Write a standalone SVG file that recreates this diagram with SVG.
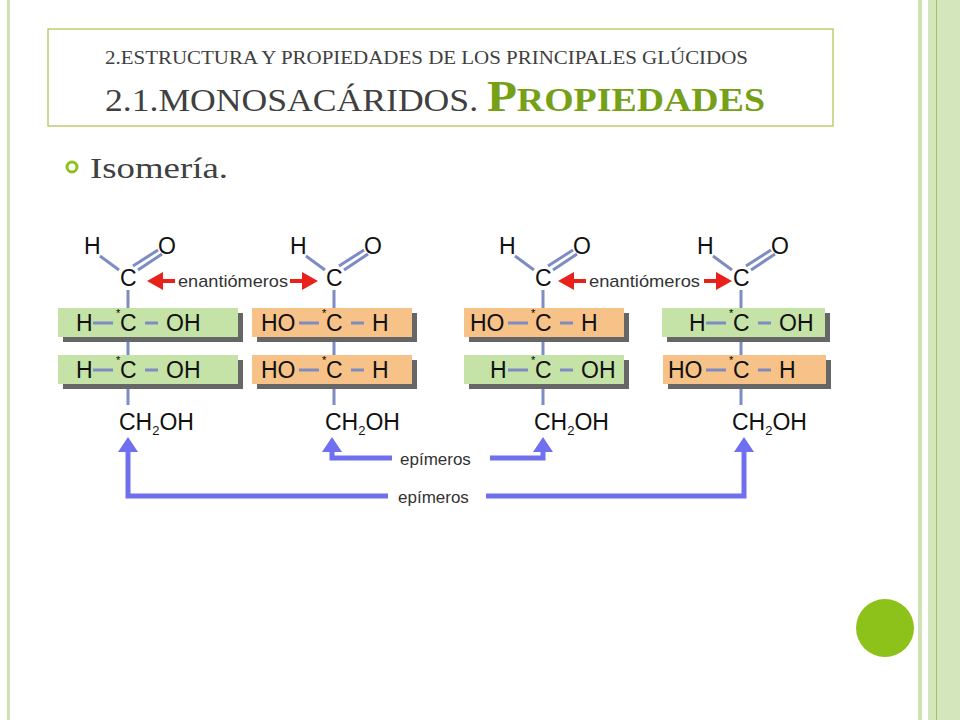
<svg xmlns="http://www.w3.org/2000/svg" width="960" height="720" viewBox="0 0 960 720">
<defs>
<style>
.s{font-family:"Liberation Serif",serif;fill:#404040}
.m{font-family:"Liberation Sans",Arial,sans-serif;font-size:23px;fill:#111}
.l{font-family:"Liberation Sans",Arial,sans-serif;font-size:17px;fill:#333}
.b{stroke:#7e8cc4;stroke-width:3;fill:none}
.g{fill:#c5e3a6}.o{fill:#f7c287}.sh{fill:#666}
.bl{stroke:#6f6ff0;stroke-width:5;fill:none}
.rd{stroke:#e8211b;stroke-width:4}
</style>
</defs>
<rect width="960" height="720" fill="#fff"/>
<rect x="7" y="0" width="3" height="720" fill="#cfe2b4"/>
<rect x="918" y="0" width="4" height="720" fill="#cfe2b4"/>
<rect x="928" y="0" width="32" height="720" fill="#d4e6bb"/>
<rect x="936" y="0" width="1" height="720" fill="#9cc460"/>
<circle cx="885" cy="628" r="29" fill="#8cc21a"/>
<g id="header">
<rect x="48" y="29" width="785" height="97" fill="#fff" stroke="#a9c24f" stroke-width="1.2"/>
<text class="s" x="105" y="64" font-size="18" textLength="643" lengthAdjust="spacingAndGlyphs">2.ESTRUCTURA Y PROPIEDADES DE LOS PRINCIPALES GLÚCIDOS</text>
<text class="s" x="105" y="111" font-size="32" textLength="660" lengthAdjust="spacingAndGlyphs">2.1.MONOSACÁRIDOS. <tspan fill="#76a017" font-weight="bold" font-size="44">P</tspan><tspan fill="#76a017" font-weight="bold" font-size="34">ROPIEDADES</tspan></text>
</g>
<g id="bullet">
<circle cx="72" cy="167" r="5" fill="none" stroke="#8cc21a" stroke-width="3"/>
<text class="s" x="90" y="178" font-size="29" fill="#111" textLength="138" lengthAdjust="spacingAndGlyphs">Isomería.</text>
</g>
<g id="mol1">
<path class="b" d="M100 256 L119 270 M133 266 L158 250 M138 270 L162 254 M128 290 V405"/>
<text class="m" x="84" y="254">H</text><text class="m" x="158" y="254">O</text><text class="m" x="120" y="286">C</text>
<rect class="sh" x="63" y="313" width="180" height="29"/><rect class="g" x="58" y="308" width="180" height="29"/>
<rect class="sh" x="63" y="360" width="180" height="29"/><rect class="g" x="58" y="355" width="180" height="29"/>
<path class="b" d="M93 323 H113 M145 323 H158 M93 370 H113 M145 370 H158"/>
<text class="m" x="76" y="331">H</text><text class="m" x="120" y="331">C</text><text class="m" x="166" y="331">OH</text><text x="116" y="317" font-size="11" font-family="Liberation Sans">*</text>
<text class="m" x="76" y="378">H</text><text class="m" x="120" y="378">C</text><text class="m" x="166" y="378">OH</text><text x="116" y="364" font-size="11" font-family="Liberation Sans">*</text>
<text class="m" x="119" y="430">CH<tspan font-size="13" dy="5">2</tspan><tspan dy="-5">OH</tspan></text>
</g>
<g id="mol2">
<path class="b" d="M306 256 L325 270 M339 266 L364 250 M344 270 L368 254 M334 290 V405"/>
<text class="m" x="290" y="254">H</text><text class="m" x="364" y="254">O</text><text class="m" x="326" y="286">C</text>
<rect class="sh" x="257" y="313" width="160" height="29"/><rect class="o" x="252" y="308" width="160" height="29"/>
<rect class="sh" x="257" y="360" width="160" height="29"/><rect class="o" x="252" y="355" width="160" height="29"/>
<path class="b" d="M299 323 H319 M351 323 H364 M299 370 H319 M351 370 H364"/>
<text class="m" x="261" y="331">HO</text><text class="m" x="326" y="331">C</text><text class="m" x="372" y="331">H</text><text x="322" y="317" font-size="11" font-family="Liberation Sans">*</text>
<text class="m" x="261" y="378">HO</text><text class="m" x="326" y="378">C</text><text class="m" x="372" y="378">H</text><text x="322" y="364" font-size="11" font-family="Liberation Sans">*</text>
<text class="m" x="325" y="430">CH<tspan font-size="13" dy="5">2</tspan><tspan dy="-5">OH</tspan></text>
</g>
<g id="mol3">
<path class="b" d="M515 256 L534 270 M548 266 L573 250 M553 270 L577 254 M543 290 V405"/>
<text class="m" x="499" y="254">H</text><text class="m" x="573" y="254">O</text><text class="m" x="535" y="286">C</text>
<rect class="sh" x="469" y="313" width="160" height="29"/><rect class="o" x="464" y="308" width="160" height="29"/>
<rect class="sh" x="469" y="360" width="160" height="29"/><rect class="g" x="464" y="355" width="160" height="29"/>
<path class="b" d="M508 323 H528 M560 323 H573 M508 370 H528 M560 370 H573"/>
<text class="m" x="470" y="331">HO</text><text class="m" x="535" y="331">C</text><text class="m" x="581" y="331">H</text><text x="531" y="317" font-size="11" font-family="Liberation Sans">*</text>
<text class="m" x="490" y="378">H</text><text class="m" x="535" y="378">C</text><text class="m" x="581" y="378">OH</text><text x="531" y="364" font-size="11" font-family="Liberation Sans">*</text>
<text class="m" x="534" y="430">CH<tspan font-size="13" dy="5">2</tspan><tspan dy="-5">OH</tspan></text>
</g>
<g id="mol4">
<path class="b" d="M713 256 L732 270 M746 266 L771 250 M751 270 L775 254 M741 290 V405"/>
<text class="m" x="697" y="254">H</text><text class="m" x="771" y="254">O</text><text class="m" x="733" y="286">C</text>
<rect class="sh" x="667" y="313" width="163" height="29"/><rect class="g" x="662" y="308" width="163" height="29"/>
<rect class="sh" x="668" y="360" width="163" height="29"/><rect class="o" x="663" y="355" width="163" height="29"/>
<path class="b" d="M706 323 H726 M758 323 H771 M706 370 H726 M758 370 H771"/>
<text class="m" x="689" y="331">H</text><text class="m" x="733" y="331">C</text><text class="m" x="779" y="331">OH</text><text x="729" y="317" font-size="11" font-family="Liberation Sans">*</text>
<text class="m" x="668" y="378">HO</text><text class="m" x="733" y="378">C</text><text class="m" x="779" y="378">H</text><text x="729" y="364" font-size="11" font-family="Liberation Sans">*</text>
<text class="m" x="732" y="430">CH<tspan font-size="13" dy="5">2</tspan><tspan dy="-5">OH</tspan></text>
</g>
<g id="connectors">
<path class="rd" d="M160 281 H175 M302 281 H290 M572 281 H586 M716 281 H704"/>
<path fill="#e8211b" d="M147 281 L163 272 V290 Z M318 281 L302 272 V290 Z M558 281 L574 272 V290 Z M732 281 L716 272 V290 Z"/>
<text class="l" x="178" y="287" textLength="110" lengthAdjust="spacingAndGlyphs">enantiómeros</text>
<text class="l" x="589" y="287" textLength="111" lengthAdjust="spacingAndGlyphs">enantiómeros</text>
<path class="bl" d="M332 450 V458 H392 M490 458 H543 V450 M128 450 V496 H388 M486 496 H744 V450"/>
<path fill="#6f6ff0" d="M332 437 L322 452 H342 Z M543 437 L533 452 H553 Z M128 437 L118 452 H138 Z M744 437 L734 452 H754 Z"/>
<text class="l" x="400" y="465">epímeros</text>
<text class="l" x="398" y="503">epímeros</text>
</g>
</svg>
